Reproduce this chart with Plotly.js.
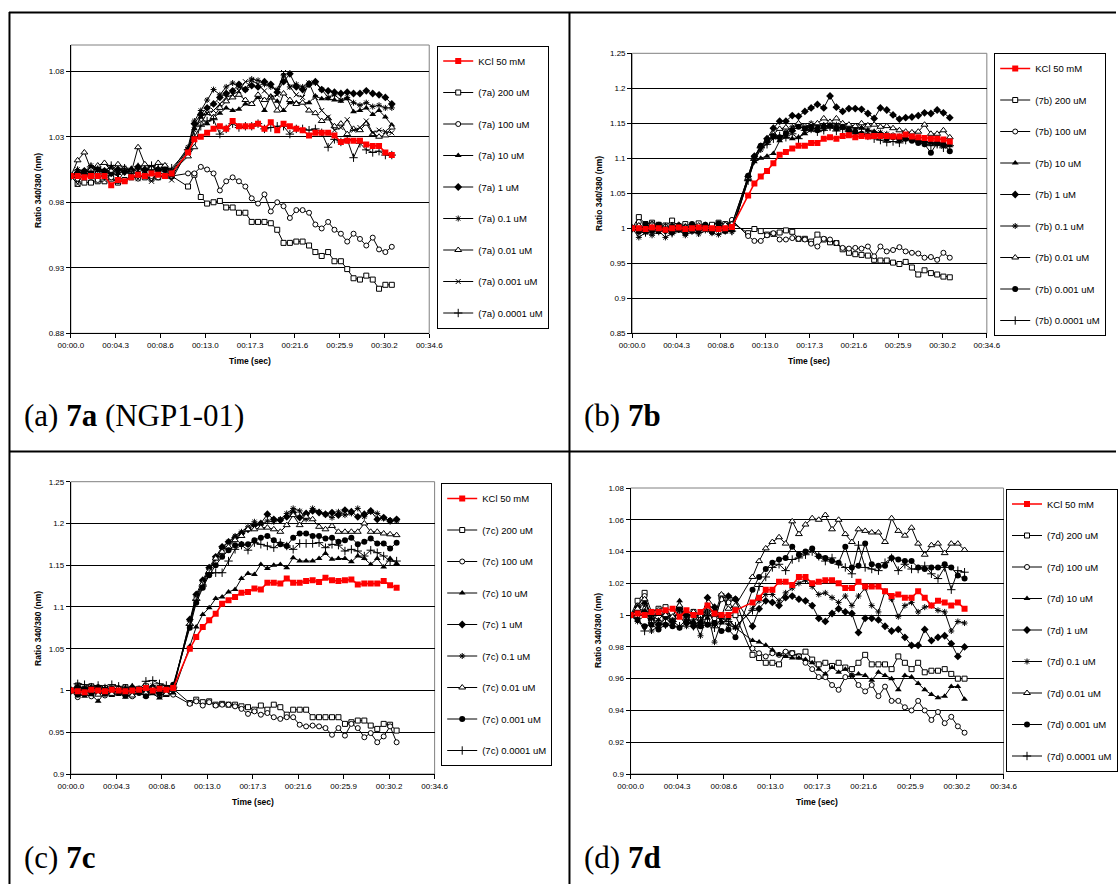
<!DOCTYPE html>
<html><head><meta charset="utf-8">
<script src="https://cdn.plot.ly/plotly-3.0.1.min.js"></script>
<style>html,body{margin:0;padding:0;background:#fff;}#chart{width:1118px;height:884px;}</style>
</head><body><div id="chart"></div>
<script>
// ---------------- DATA ----------------
const TIME = [0, 0.65, 1.3, 1.94, 2.59, 3.24, 3.89, 4.54, 5.18, 5.83, 6.48, 7.13, 7.78, 8.42, 9.07, 9.72,
  11.3, 11.91, 12.53, 13.14, 13.76, 14.37, 14.98, 15.6, 16.21, 16.83, 17.44, 18.05, 18.67, 19.28, 19.9, 20.51,
  21.12, 21.74, 22.35, 22.97, 23.58, 24.19, 24.81, 25.42, 26.04, 26.65, 27.26, 27.88, 28.49, 29.11, 29.72, 30.33, 30.95];
const X_TICK_VALS = [0, 4.32, 8.64, 12.96, 17.28, 21.6, 25.92, 30.24, 34.56];
const X_TICK_TEXT = ["00:00.0","00:04.3","00:08.6","00:13.0","00:17.3","00:21.6","00:25.9","00:30.2","00:34.6"];
const CONCENTRATIONS = ["200 uM","100 uM","10 uM","1 uM","0.1 uM","0.01 uM","0.001 uM","0.0001 uM"];
const PANEL_IDS = ["7a","7b","7c","7d"];
const CAPTIONS = ["(a) <b>7a</b> (NGP1-01)","(b) <b>7b</b>","(c) <b>7c</b>","(d) <b>7d</b>"];
const Y_TICKS_A = [0.88, 0.93, 0.98, 1.03, 1.08];
const Y_TICKS_B = [0.85, 0.9, 0.95, 1, 1.05, 1.1, 1.15, 1.2, 1.25];
const Y_TICKS_C = [0.9, 0.95, 1, 1.05, 1.1, 1.15, 1.2, 1.25];
const Y_TICKS_D = [0.9, 0.92, 0.94, 0.96, 0.98, 1, 1.02, 1.04, 1.06, 1.08];
const Y_RANGE_A = [0.88, 1.10], Y_RANGE_B = [0.85, 1.25], Y_RANGE_C = [0.9, 1.25], Y_RANGE_D = [0.9, 1.08];

// panel a (7a, NGP1-01)
const a_kcl = [1.0,1.0,0.999,1.0,1.0,1.0,0.993,0.997,0.996,0.999,1.001,1.0,1.002,1.001,1.0,1.002,
  1.018,1.028,1.03,1.033,1.036,1.038,1.036,1.042,1.038,1.038,1.038,1.04,1.036,1.041,1.035,1.04,1.038,1.036,1.035,1.031,1.033,1.033,1.033,1.031,1.026,1.027,1.027,1.027,1.024,1.023,1.023,1.018,1.016];
const a_200 = [1.0,0.994,0.995,0.995,0.996,0.996,0.998,0.995,0.997,0.999,1.0,0.999,0.998,0.999,1.0,1.0,
  0.992,1.001,0.984,0.979,0.98,0.981,0.976,0.976,0.972,0.972,0.965,0.965,0.965,0.964,0.959,0.949,0.949,0.95,0.95,0.947,0.942,0.939,0.942,0.935,0.935,0.929,0.922,0.921,0.924,0.921,0.914,0.917,0.917];
const a_100 = [1.0,0.998,1.003,1.0,0.997,1.002,0.999,0.996,1.004,1.0,0.998,1.002,1.0,0.999,1.001,1.0,
  1.002,1.002,1.007,1.005,1.002,0.989,0.996,0.999,0.996,0.992,0.983,0.979,0.986,0.973,0.98,0.977,0.968,0.974,0.974,0.972,0.963,0.96,0.965,0.959,0.956,0.95,0.956,0.952,0.947,0.953,0.944,0.942,0.946];
const a_10 = [1.0,1.003,1.002,1.006,1.004,1.003,1.005,1.002,1.004,1.006,1.003,1.005,1.004,1.006,1.004,1.0,
  1.018,1.036,1.045,1.04,1.045,1.048,1.052,1.05,1.051,1.055,1.055,1.06,1.05,1.061,1.057,1.05,1.056,1.056,1.056,1.056,1.061,1.059,1.059,1.058,1.057,1.059,1.049,1.05,1.052,1.047,1.05,1.045,1.039];
const a_1 = [1.0,1.002,1.004,1.003,1.006,1.004,1.002,1.005,1.003,1.004,1.007,1.005,1.006,1.004,1.006,1.003,
  1.02,1.04,1.047,1.052,1.055,1.06,1.063,1.065,1.07,1.066,1.069,1.068,1.072,1.07,1.064,1.072,1.078,1.068,1.066,1.07,1.072,1.066,1.065,1.064,1.063,1.064,1.063,1.063,1.065,1.063,1.062,1.06,1.055];
const a_01 = [1.0,1.005,1.003,1.008,1.006,1.004,1.007,1.003,1.006,1.004,1.006,1.004,1.007,1.005,1.008,1.004,
  1.022,1.042,1.05,1.058,1.066,1.062,1.068,1.071,1.068,1.066,1.074,1.073,1.07,1.068,1.066,1.077,1.068,1.07,1.068,1.071,1.071,1.066,1.06,1.062,1.058,1.06,1.056,1.054,1.056,1.053,1.054,1.052,1.052];
const a_001 = [1.0,1.012,1.018,1.005,1.008,1.01,1.004,1.009,1.006,1.003,1.022,1.009,1.006,1.01,1.008,1.003,
  1.015,1.022,1.04,1.048,1.045,1.052,1.057,1.06,1.062,1.058,1.055,1.062,1.058,1.06,1.05,1.063,1.058,1.055,1.056,1.05,1.048,1.042,1.044,1.038,1.04,1.032,1.036,1.035,1.04,1.032,1.03,1.031,1.037];
const a_0001 = [1.0,0.994,1.003,0.998,1.005,0.997,1.002,1.0,0.996,1.001,0.998,1.002,0.996,1.004,1.0,0.997,
  1.02,1.035,1.045,1.048,1.05,1.055,1.06,1.062,1.065,1.072,1.073,1.07,1.065,1.06,1.062,1.079,1.068,1.062,1.06,1.071,1.06,1.05,1.045,1.035,1.037,1.043,1.035,1.037,1.042,1.033,1.035,1.034,1.033];
const a_00001 = [1.0,1.004,1.002,1.007,1.005,1.003,1.008,1.004,1.006,1.003,1.007,1.005,1.008,1.006,1.004,1.006,
  1.02,1.03,1.038,1.042,1.043,1.032,1.036,1.04,1.037,1.038,1.038,1.04,1.036,1.037,1.038,1.038,1.032,1.036,1.036,1.035,1.036,1.033,1.022,1.028,1.026,1.028,1.014,1.025,1.02,1.018,1.019,1.016,1.016];

// panel b (7b)
const b_kcl = [1.0,1.0,0.999,1.001,1.0,0.998,1.0,1.001,0.999,1.0,1.001,1.0,1.0,0.999,1.0,1.002,
  1.047,1.064,1.074,1.082,1.093,1.105,1.109,1.114,1.118,1.118,1.122,1.122,1.128,1.13,1.128,1.132,1.133,1.13,1.132,1.131,1.132,1.132,1.132,1.131,1.131,1.134,1.131,1.13,1.129,1.128,1.128,1.127,1.124];
const b_200 = [1.0,1.016,1.006,1.008,1.005,1.004,1.011,1.003,1.006,1.004,1.007,1.003,1.005,1.008,1.006,1.008,
  0.993,0.999,0.996,0.991,0.992,0.994,0.997,0.995,0.985,0.985,0.981,0.991,0.984,0.98,0.979,0.97,0.965,0.963,0.962,0.961,0.955,0.954,0.954,0.951,0.949,0.952,0.944,0.934,0.94,0.936,0.934,0.931,0.93];
const b_100 = [1.0,1.009,0.995,1.006,1.004,0.997,1.005,1.0,0.998,1.005,1.002,1.004,0.999,1.003,1.004,1.012,
  0.989,0.982,0.982,0.99,0.993,0.984,0.984,0.986,0.985,0.984,0.978,0.974,0.985,0.984,0.979,0.972,0.971,0.972,0.971,0.974,0.96,0.974,0.967,0.969,0.973,0.967,0.965,0.964,0.958,0.959,0.955,0.965,0.958];
const b_10 = [1.0,0.997,1.003,0.998,0.994,0.999,1.002,0.996,0.998,1.001,0.995,1.0,0.997,1.002,0.995,0.997,
  1.07,1.095,1.1,1.103,1.107,1.125,1.13,1.128,1.13,1.135,1.14,1.145,1.148,1.145,1.142,1.145,1.143,1.146,1.143,1.14,1.138,1.136,1.133,1.131,1.129,1.128,1.126,1.124,1.125,1.122,1.124,1.121,1.118];
const b_1 = [1.0,1.002,0.997,1.004,1.001,0.996,1.003,0.999,1.002,0.997,1.001,1.004,0.998,1.001,0.999,1.005,
  1.074,1.103,1.117,1.128,1.143,1.153,1.153,1.161,1.16,1.167,1.172,1.177,1.172,1.189,1.173,1.167,1.171,1.171,1.17,1.164,1.157,1.172,1.169,1.162,1.156,1.158,1.159,1.161,1.165,1.164,1.169,1.165,1.158];
const b_01 = [1.0,0.987,0.994,0.99,0.996,0.987,0.993,0.998,0.99,0.995,0.992,0.997,0.993,0.991,0.996,0.995,
  1.07,1.098,1.112,1.122,1.13,1.128,1.138,1.145,1.148,1.14,1.15,1.147,1.142,1.145,1.148,1.144,1.146,1.142,1.144,1.14,1.138,1.137,1.135,1.133,1.131,1.128,1.127,1.125,1.124,1.122,1.12,1.117,1.12];
const b_001 = [1.0,1.004,0.999,1.006,1.0,1.003,0.997,1.005,1.001,0.998,1.004,1.001,0.999,1.003,1.005,1.006,
  1.072,1.1,1.117,1.125,1.135,1.142,1.144,1.141,1.15,1.146,1.148,1.15,1.157,1.152,1.157,1.15,1.148,1.146,1.15,1.147,1.148,1.145,1.146,1.143,1.14,1.138,1.137,1.138,1.148,1.135,1.135,1.14,1.13];
const b_0001 = [1.0,0.995,1.006,0.996,1.005,0.998,0.994,1.004,0.993,1.006,0.997,1.005,0.995,1.007,0.996,0.998,
  1.075,1.102,1.118,1.125,1.132,1.13,1.135,1.14,1.145,1.143,1.145,1.14,1.145,1.147,1.143,1.145,1.14,1.138,1.135,1.133,1.134,1.132,1.128,1.13,1.127,1.128,1.125,1.122,1.12,1.108,1.122,1.12,1.11];
const b_00001 = [1.0,0.998,0.994,1.003,0.996,1.002,0.993,1.0,0.995,1.003,0.994,1.001,0.996,1.002,0.997,0.996,
  1.068,1.097,1.115,1.12,1.128,1.132,1.13,1.135,1.128,1.14,1.142,1.138,1.14,1.145,1.139,1.142,1.138,1.135,1.136,1.132,1.128,1.126,1.123,1.124,1.122,1.126,1.128,1.125,1.122,1.118,1.12,1.115,1.118];

// panel c (7c)
const c_kcl = [1.0,0.999,0.998,1.001,1.0,0.999,1.001,1.0,0.999,1.0,1.001,1.003,1.0,1.002,1.001,1.003,
  1.05,1.064,1.076,1.084,1.092,1.104,1.108,1.112,1.117,1.118,1.122,1.121,1.129,1.129,1.128,1.134,1.129,1.129,1.131,1.132,1.13,1.135,1.132,1.131,1.132,1.133,1.127,1.128,1.128,1.128,1.131,1.126,1.123];
const c_200 = [1.0,1.006,1.002,1.005,0.998,1.003,1.001,0.997,1.004,1.0,1.002,1.005,1.001,1.003,0.999,1.002,
  0.985,0.989,0.986,0.987,0.983,0.984,0.983,0.983,0.981,0.98,0.977,0.982,0.977,0.983,0.98,0.971,0.977,0.977,0.977,0.968,0.968,0.968,0.968,0.968,0.96,0.962,0.964,0.964,0.958,0.954,0.96,0.959,0.952];
const c_100 = [1.0,0.992,0.996,0.993,0.999,0.994,0.997,1.0,0.995,0.993,0.998,0.996,0.999,0.994,0.997,0.995,
  0.984,0.987,0.982,0.986,0.982,0.983,0.983,0.981,0.978,0.972,0.975,0.971,0.973,0.968,0.966,0.968,0.968,0.959,0.957,0.958,0.957,0.955,0.947,0.955,0.946,0.96,0.955,0.944,0.949,0.938,0.945,0.957,0.938];
const c_10 = [1.0,0.996,0.993,0.995,0.987,0.998,0.994,0.997,0.992,0.995,0.998,0.993,0.996,0.991,0.994,0.997,
  1.053,1.076,1.091,1.099,1.11,1.112,1.118,1.121,1.134,1.14,1.139,1.151,1.146,1.15,1.151,1.147,1.159,1.155,1.155,1.155,1.158,1.164,1.157,1.158,1.158,1.154,1.161,1.158,1.151,1.158,1.148,1.158,1.152];
const c_1 = [1.0,1.004,1.002,0.998,1.003,1.001,0.997,1.002,0.999,1.004,1.0,0.998,1.003,1.001,0.999,1.002,
  1.085,1.115,1.132,1.147,1.16,1.172,1.178,1.183,1.188,1.193,1.198,1.2,1.211,1.205,1.204,1.208,1.213,1.207,1.212,1.215,1.213,1.211,1.213,1.21,1.216,1.214,1.208,1.211,1.215,1.205,1.207,1.203,1.205];
const c_01 = [1.0,1.003,0.998,1.005,1.0,0.997,1.002,0.999,1.004,1.001,0.998,1.003,1.006,1.002,1.0,1.004,
  1.083,1.112,1.13,1.145,1.158,1.17,1.178,1.185,1.19,1.196,1.202,1.198,1.203,1.202,1.205,1.212,1.218,1.215,1.205,1.218,1.214,1.211,1.207,1.214,1.21,1.212,1.218,1.208,1.214,1.212,1.206,1.204,1.203];
const c_001 = [1.0,0.997,1.002,0.999,0.995,1.001,0.996,1.003,0.998,0.994,1.0,0.997,1.002,0.999,0.996,1.001,
  1.08,1.11,1.128,1.143,1.158,1.166,1.172,1.18,1.185,1.193,1.193,1.195,1.195,1.193,1.19,1.198,1.21,1.198,1.208,1.205,1.196,1.193,1.197,1.19,1.19,1.19,1.19,1.2,1.19,1.19,1.188,1.187,1.186];
const c_0001 = [1.0,0.995,1.001,0.997,1.004,0.996,1.002,0.998,0.994,1.001,0.997,0.993,0.999,0.996,1.003,1.007,
  1.075,1.105,1.123,1.138,1.15,1.16,1.168,1.174,1.175,1.175,1.18,1.183,1.185,1.18,1.175,1.173,1.183,1.188,1.188,1.185,1.185,1.182,1.183,1.178,1.18,1.183,1.175,1.178,1.182,1.176,1.176,1.17,1.177];
const c_00001 = [1.0,1.008,1.007,1.004,1.006,1.003,1.007,1.005,1.002,1.004,1.001,1.011,1.012,1.008,1.006,1.004,
  1.078,1.108,1.125,1.14,1.141,1.141,1.155,1.169,1.174,1.168,1.177,1.175,1.173,1.171,1.177,1.173,1.169,1.176,1.176,1.176,1.177,1.171,1.175,1.174,1.167,1.169,1.167,1.161,1.168,1.165,1.161,1.155,1.155];

// panel d (7d)
const d_kcl = [1.0,1.001,1.0,1.002,1.002,1.003,1.004,0.999,1.003,1.0,1.002,1.006,1.001,1.0,1.0,1.003,
  1.008,1.011,1.016,1.016,1.021,1.021,1.019,1.024,1.024,1.02,1.021,1.022,1.022,1.02,1.017,1.017,1.021,1.018,1.018,1.018,1.015,1.012,1.013,1.011,1.011,1.015,1.011,1.006,1.009,1.008,1.006,1.008,1.004];
const d_200 = [1.0,1.009,1.014,1.002,1.004,1.005,0.998,1.003,0.999,1.002,1.0,1.003,0.995,1.012,1.01,1.0,
  0.975,0.973,0.97,0.97,0.969,0.976,0.976,0.974,0.977,0.972,0.969,0.97,0.968,0.97,0.967,0.966,0.97,0.975,0.969,0.969,0.969,0.966,0.974,0.97,0.966,0.97,0.964,0.965,0.965,0.966,0.963,0.96,0.96];
const d_100 = [1.0,1.006,1.012,0.998,1.003,1.001,0.996,1.004,0.998,1.001,0.997,1.002,0.998,1.01,1.008,1.01,
  0.979,0.976,0.974,0.976,0.975,0.977,0.976,0.974,0.97,0.966,0.961,0.961,0.956,0.953,0.961,0.962,0.956,0.952,0.956,0.949,0.955,0.946,0.946,0.942,0.94,0.946,0.94,0.934,0.939,0.932,0.936,0.93,0.926];
const d_10 = [1.0,1.003,1.008,1.0,0.997,1.002,0.999,1.009,0.997,0.996,1.001,0.998,1.003,0.995,0.998,0.992,
  0.984,0.983,0.981,0.978,0.975,0.974,0.973,0.973,0.972,0.97,0.966,0.963,0.967,0.964,0.966,0.962,0.963,0.962,0.959,0.964,0.962,0.96,0.953,0.962,0.961,0.957,0.953,0.95,0.948,0.949,0.955,0.955,0.947];
const d_1 = [1.0,1.005,1.002,0.997,0.994,0.999,0.996,1.004,1.0,0.993,0.995,1.011,1.005,0.999,1.012,1.01,
  0.993,1.004,1.009,1.008,1.006,1.011,1.012,1.01,1.009,1.006,0.998,0.996,1.001,1.004,1.002,1.001,0.989,0.998,0.998,0.997,0.993,0.99,0.991,0.986,0.981,0.981,0.991,0.984,0.986,0.987,0.982,0.974,0.98];
const d_01 = [1.0,0.996,1.007,0.99,0.993,0.998,0.995,1.0,0.993,0.997,0.987,1.002,0.983,0.996,0.994,0.992,
  1.004,1.009,1.013,1.013,1.009,1.014,1.017,1.02,1.022,1.018,1.013,1.014,1.011,1.008,1.012,1.006,1.012,1.017,1.006,1.002,1.015,1.01,0.999,1.006,1.008,1.002,1.005,1.006,1.003,1.002,0.99,0.996,0.995];
const d_001 = [1.0,1.004,1.01,0.996,1.001,1.0,0.999,1.006,0.996,1.002,0.993,1.006,1.0,1.013,1.004,1.006,
  1.024,1.034,1.042,1.046,1.049,1.045,1.059,1.051,1.057,1.061,1.06,1.063,1.054,1.06,1.051,1.046,1.054,1.053,1.052,1.052,1.046,1.061,1.053,1.05,1.055,1.045,1.038,1.044,1.045,1.039,1.045,1.045,1.041];
const d_0001 = [1.0,0.997,0.993,0.994,0.991,0.994,0.993,0.992,0.995,0.994,0.993,0.994,0.995,0.99,0.991,0.986,
  1.016,1.024,1.029,1.033,1.035,1.036,1.043,1.038,1.04,1.042,1.037,1.036,1.034,1.033,1.043,1.03,1.031,1.045,1.032,1.031,1.031,1.036,1.035,1.034,1.034,1.03,1.029,1.03,1.03,1.032,1.03,1.025,1.023];
const d_00001 = [1.0,0.998,0.99,0.998,0.995,0.994,0.996,0.993,0.997,0.993,0.997,0.995,0.992,0.998,0.996,0.993,
  1.003,1.018,1.024,1.03,1.032,1.028,1.035,1.036,1.038,1.04,1.037,1.034,1.036,1.032,1.03,1.026,1.044,1.03,1.029,1.028,1.033,1.036,1.028,1.032,1.029,1.029,1.031,1.026,1.023,1.03,1.016,1.028,1.027];

// ---------------- LAYOUT HELPERS ----------------
const W = 1118, H = 884;
const fx = v => v / W, fy = v => 1 - v / H;
const SANS = 'Liberation Sans, Arial, sans-serif';
const SERIF = 'Liberation Serif, Times New Roman, serif';

const PANELS = [
  {data:[a_kcl,a_200,a_100,a_10,a_1,a_01,a_001,a_0001,a_00001], yt:Y_TICKS_A, yr:Y_RANGE_A,
   box:[71,430,45,333.3], leg:[438,45.5], ytitle:[38,190], cap:[22,415], x0001:'x'},
  {data:[b_kcl,b_200,b_100,b_10,b_1,b_01,b_001,b_0001,b_00001], yt:Y_TICKS_B, yr:Y_RANGE_B,
   box:[633.3,988.6,53.3,333.3], leg:[996,53], ytitle:[600,193], cap:[583,415], x0001:'o'},
  {data:[c_kcl,c_200,c_100,c_10,c_1,c_01,c_001,c_0001,c_00001], yt:Y_TICKS_C, yr:Y_RANGE_C,
   box:[71,435.4,481.7,774], leg:[442,483], ytitle:[38,628], cap:[22,857], x0001:'o'},
  {data:[d_kcl,d_200,d_100,d_10,d_1,d_01,d_001,d_0001,d_00001], yt:Y_TICKS_D, yr:Y_RANGE_D,
   box:[631.7,1005.3,488,774], leg:[1008,488.5], ytitle:[599,630], cap:[583,857], x0001:'o'}
];

function markerFor(s, p) {
  const blk = {color:'#000', width:1};
  switch (s) {
    case 0: return {symbol:'square', size:6, color:'#ff0000', line:{color:'#ff0000', width:0}};
    case 1: return {symbol:'square', size:5, color:'#fff', line:blk};
    case 2: return {symbol:'circle', size:5, color:'#fff', line:blk};
    case 3: return {symbol:'triangle-up', size:6, color:'#000', line:{color:'#000', width:0}};
    case 4: return {symbol:'diamond', size:6, color:'#000', line:{color:'#000', width:0}};
    case 5: return {symbol:'asterisk-open', size:5, color:'#000', line:blk};
    case 6: return {symbol:'triangle-up', size:6, color:'#fff', line:blk};
    case 7: return PANELS[p].x0001 === 'x'
        ? {symbol:'x-thin-open', size:5, color:'#000', line:blk}
        : {symbol:'circle', size:6, color:'#000', line:{color:'#000', width:0}};
    default: return {symbol:'cross-thin-open', size:6, color:'#000', line:blk};
  }
}

const traces = [];
const layout = {
  width: W, height: H, margin:{l:0,r:0,t:0,b:0}, paper_bgcolor:'#fff', plot_bgcolor:'#fff',
  showlegend:true, hovermode:false, font:{family:SANS, color:'#000'},
  annotations:[], shapes:[]
};

PANELS.forEach((P, p) => {
  const n = p === 0 ? '' : String(p + 1);
  const [L, R, T, B] = P.box;
  const legName = 'legend' + n;
  const order = [1,2,3,4,5,6,7,8,0]; // red drawn last (on top)
  order.forEach(s => {
    const name = s === 0 ? 'KCl 50 mM' : '(' + PANEL_IDS[p] + ') ' + CONCENTRATIONS[s - 1];
    traces.push({
      type:'scatter', mode:'lines+markers', x:TIME, y:P.data[s], name:name,
      xaxis:'x' + n, yaxis:'y' + n, legend:legName, legendgroup:'g' + p + '_' + s, legendrank:(s + 1) * 10,
      line:{color: s === 0 ? '#ff0000' : '#000', width: s === 0 ? 1.6 : 1},
      marker:markerFor(s, p), cliponaxis:true
    });
  });
  layout['xaxis' + n] = {
    domain:[fx(L), fx(R)], range:[0, 34.56], anchor:'y' + n,
    tickmode:'array', tickvals:X_TICK_VALS, ticktext:X_TICK_TEXT,
    showgrid:false, zeroline:false, showline:true, linecolor:'#000', linewidth:1,
    ticks:'outside', ticklen:4, tickcolor:'#000', tickwidth:1,
    tickfont:{family:SANS, size:8, color:'#000'}, fixedrange:true
  };
  layout['yaxis' + n] = {
    domain:[fy(B), fy(T)], range:P.yr, anchor:'x' + n,
    tickmode:'array', tickvals:P.yt, ticktext:P.yt.map(v => String(v)),
    showgrid:true, gridcolor:'#000', gridwidth:1, zeroline:false,
    showline:true, linecolor:'#000', linewidth:1,
    ticks:'outside', ticklen:4, tickcolor:'#000', tickwidth:1,
    tickfont:{family:SANS, size:8, color:'#000'}, fixedrange:true
  };
  layout[legName] = {
    x:fx(P.leg[0]), y:fy(P.leg[1]), xanchor:'left', yanchor:'top',
    bgcolor:'#fff', bordercolor:'#000', borderwidth:1,
    font:{family:SANS, size:9.5, color:'#000'}, traceorder:'grouped', tracegroupgap:12.5,
    itemwidth:30
  };
  // plot-area frame (grey)
  layout.shapes.push({type:'rect', xref:'x' + n + ' domain', yref:'y' + n + ' domain', x0:0, x1:1, y0:0, y1:1,
    line:{color:'#808080', width:1}, layer:'below'});
  // axis titles
  layout.annotations.push({xref:'paper', yref:'paper', x:fx((L + R) / 2), y:fy(B + 28), xanchor:'center', yanchor:'middle',
    text:'<b>Time (sec)</b>', showarrow:false, font:{family:SANS, size:8.5, color:'#000'}});
  layout.annotations.push({xref:'paper', yref:'paper', x:fx(P.ytitle[0]), y:fy(P.ytitle[1]), xanchor:'center', yanchor:'middle',
    text:'<b>Ratio 340/380 (nm)</b>', textangle:-90, showarrow:false, font:{family:SANS, size:8.5, color:'#000'}});
  // caption
  layout.annotations.push({xref:'paper', yref:'paper', x:fx(P.cap[0]), y:fy(P.cap[1]), xanchor:'left', yanchor:'middle',
    text:CAPTIONS[p], showarrow:false, font:{family:SERIF, size:31, color:'#000'}});
});

// table frame lines
const LINE = {color:'#000', width:2};
[[9, 12.5, 1118, 12.5], [9, 451.5, 1118, 451.5], [9.5, 12, 9.5, 884], [570.5, 12, 570.5, 884]].forEach(c => {
  layout.shapes.push({type:'line', xref:'paper', yref:'paper', x0:fx(c[0]), y0:fy(c[1]), x1:fx(c[2]), y1:fy(c[3]), line:LINE, layer:'above'});
});

Plotly.newPlot('chart', traces, layout, {staticPlot:true, displayModeBar:false});
</script>
</body></html>
